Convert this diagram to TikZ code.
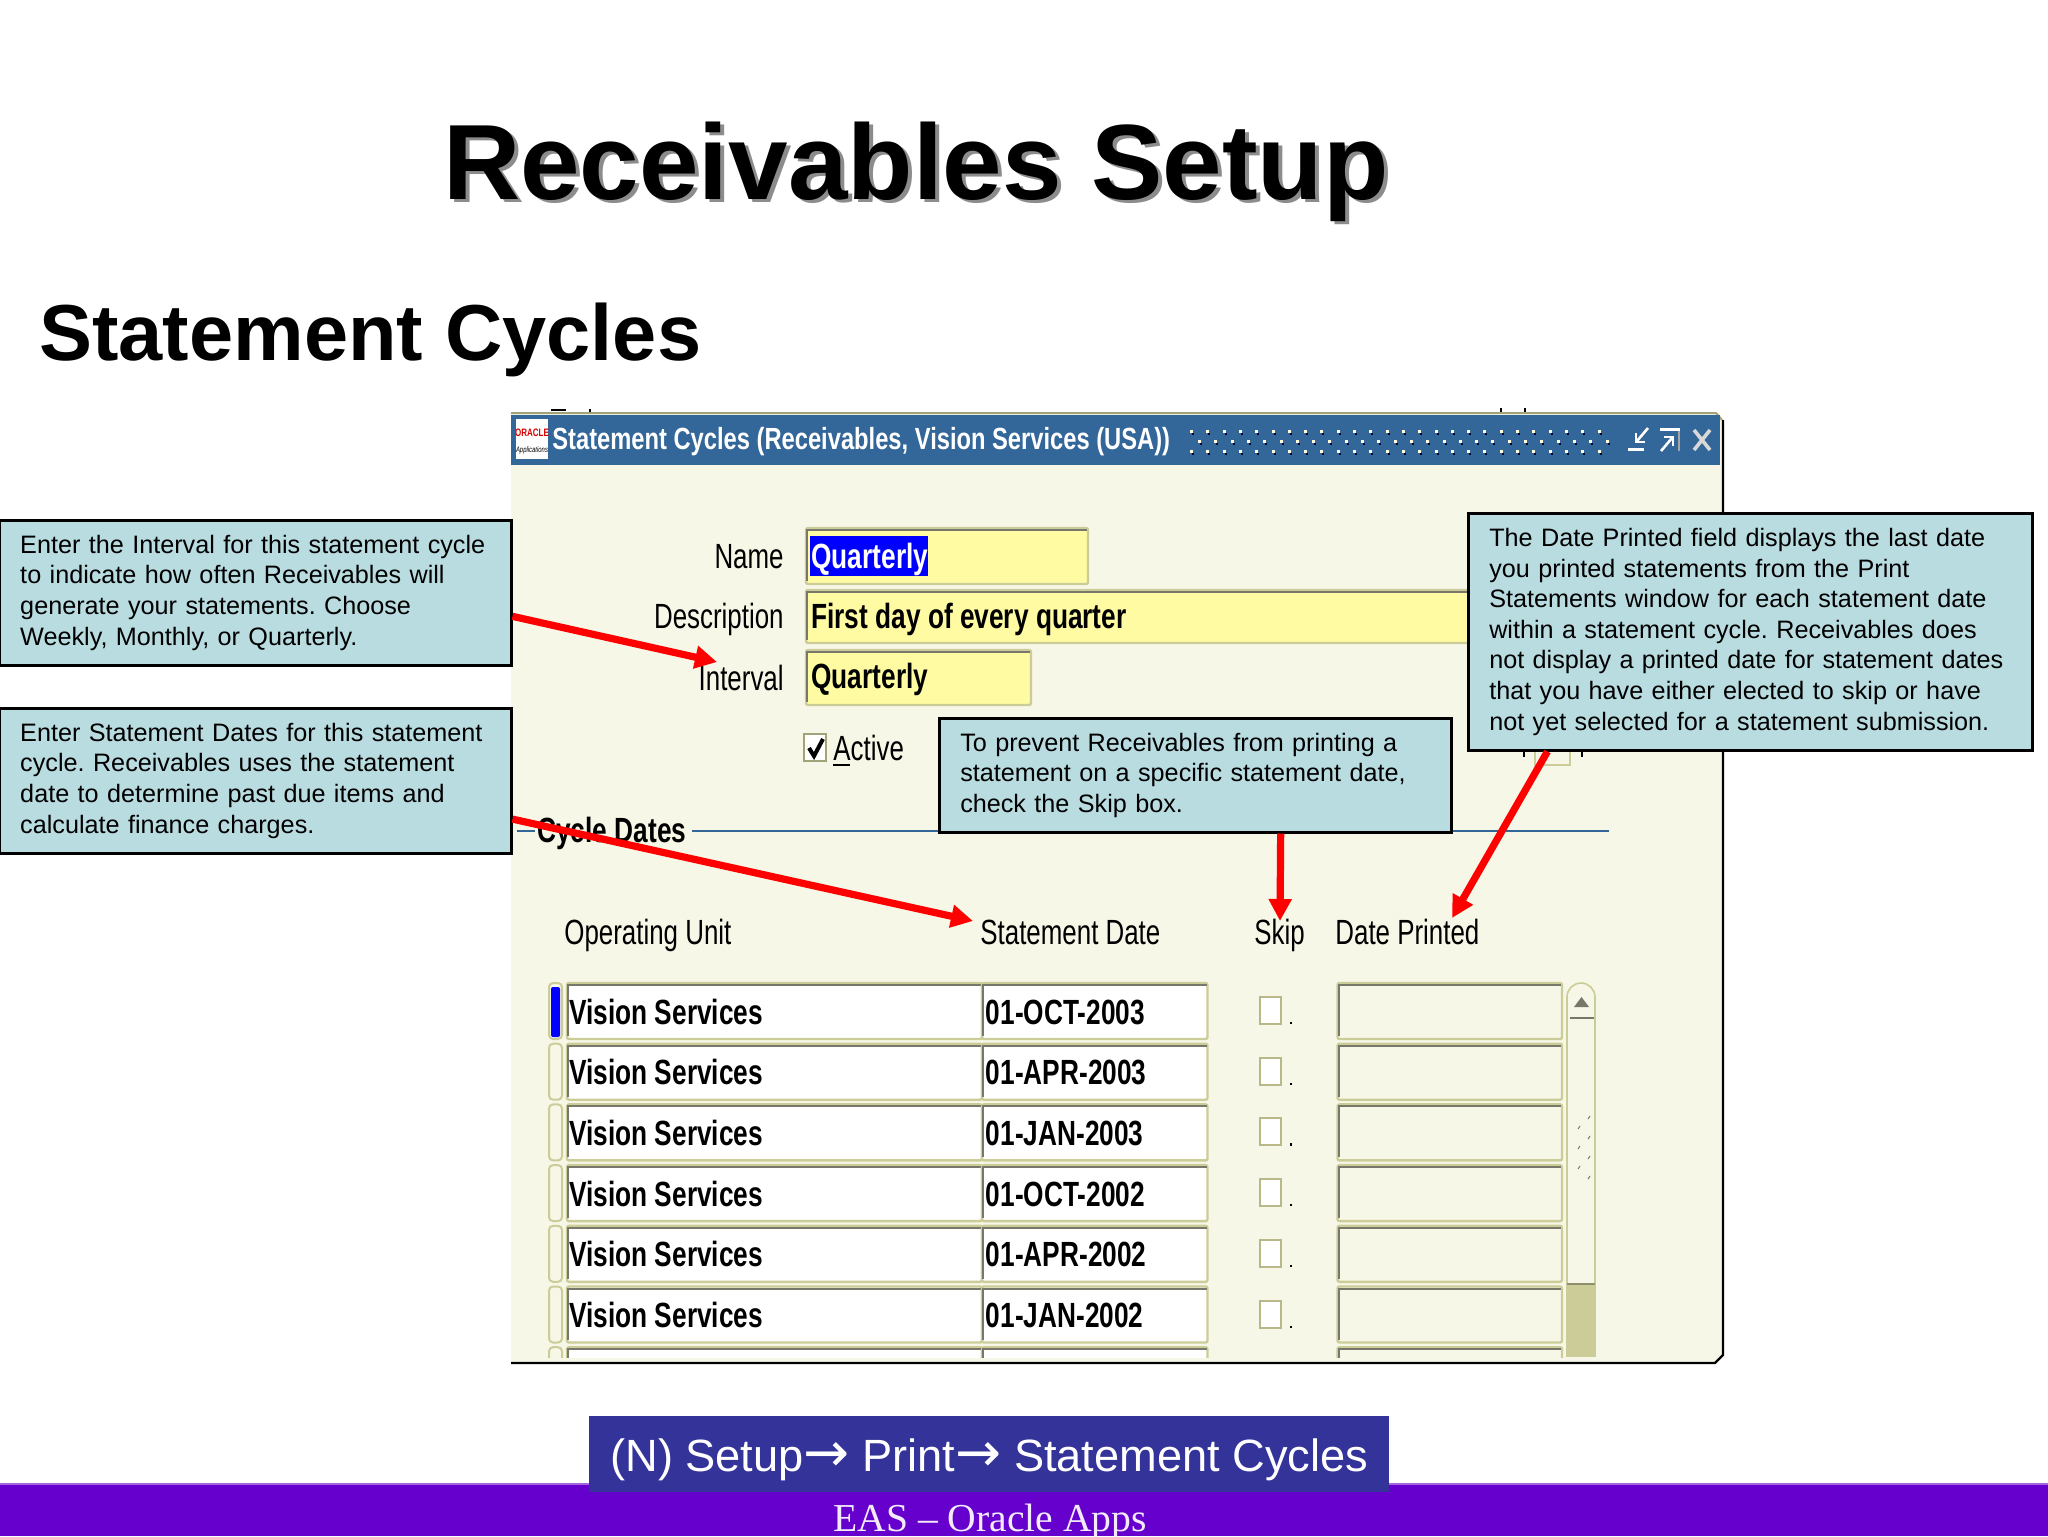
\documentclass[tikz,border=0pt]{standalone}
\usepackage{fontspec}
\setmainfont{Liberation Sans}
\newfontfamily\dejav{DejaVu Sans}
\newfontfamily\serifb{Liberation Serif}
\newfontfamily\narr[FakeStretch=0.74]{Liberation Sans}
\newfontfamily\narb[FakeStretch=0.75]{Liberation Sans}
\newfontfamily\nart[FakeStretch=0.775]{Liberation Sans}
\usetikzlibrary{calc,arrows.meta}
\definecolor{winbg}{HTML}{F7F7E7}
\definecolor{barblue}{HTML}{336699}
\definecolor{olive}{HTML}{CCCC99}
\definecolor{olivedk}{HTML}{77776A}
\definecolor{fieldy}{HTML}{FFFBA3}
\definecolor{callfill}{HTML}{B9DCE1}
\definecolor{navblue}{HTML}{333399}
\definecolor{footpurple}{HTML}{6600CC}
\tikzset{
  lbl/.style={inner sep=0pt,anchor=base east,font=\narr\fontsize{17.5}{20}\selectfont,text=black},
  hdr/.style={inner sep=0pt,anchor=base west,font=\narr\fontsize{17.5}{20}\selectfont,text=black},
  fld/.style={inner sep=0pt,anchor=base west,font=\narb\bfseries\fontsize{17.5}{20}\selectfont,text=black},
  callout/.style={draw=black,line width=1.25pt,fill=callfill,anchor=north west,inner xsep=10.5pt,inner ysep=0pt,
     align=left,font=\fontsize{12.6}{15.3}\selectfont\frenchspacing,text=black},
  redarrow/.style={draw=red,line width=3.6pt,-{Triangle[length=11pt,width=11pt]}},
}
\newcommand\fbx[5]{%
  \fill[#5] (#1,#2) rectangle (#3,#4);
  \draw[olive,line width=1.2pt,rounded corners=1pt] (#1,#2) rectangle (#3,#4);
  \draw[olivedk,line width=1pt] (#1+1,#4-3) -- (#1+1,#2+2) -- (#3-1,#2+2);
}
\begin{document}
\begin{tikzpicture}[x=0.5pt,y=-0.5pt]
\useasboundingbox (0,0) rectangle (2048,1536);
\fill[white] (0,0) rectangle (2048,1536);
% titles
\node[inner sep=0pt,anchor=base,text=black!45,font=\bfseries\fontsize{53.5}{60}\selectfont] (titleshadow) at (920,202) {Receivables Setup};
\node[inner sep=0pt,anchor=base,text=black,font=\bfseries\fontsize{53.5}{60}\selectfont] (title) at (916,199) {Receivables Setup};
\node[inner sep=0pt,anchor=base west,text=black,font=\bfseries\fontsize{39.7}{44}\selectfont] (subtitle) at (39,360) {Statement Cycles};
% stray marks above window
\draw[black,line width=1pt] (551,410) -- (566,410) (590,409) -- (590,413) (1501,408) -- (1501,414) (1525,408) -- (1525,414);
% window
\path[fill=winbg] (511,413) -- (1716,413) -- (1723,420) -- (1723,1355) -- (1715,1363) -- (511,1363) -- cycle;
\draw[black,line width=1.2pt] (1723,420) -- (1723,1355) -- (1715,1363) -- (511,1363);
\draw[olive!80!black,line width=1pt] (511,413) -- (1716,413) -- (1722,420);
\fill[barblue] (511,415) rectangle (1720,465);
\fill[white] (516,419) rectangle (548,459);
\node[inner sep=0pt,anchor=center,text=red!85!black,font=\narr\bfseries\fontsize{5.4}{6}\selectfont] (logotop) at (532,433) {ORACLE};
\node[inner sep=0pt,anchor=center,text=black,font=\narr\itshape\fontsize{4}{5}\selectfont] (logobot) at (532,450) {Applications};
\node[inner sep=0pt,anchor=base west,text=white,font=\nart\bfseries\fontsize{15.3}{18}\selectfont] (wintitle) at (552,449) {Statement Cycles (Receivables, Vision Services (USA))};
% title bar dots
\foreach \i in {0,...,25}{
  \foreach \xx/\yy in {1190/430,1198/440,1190/450}{
    \fill[white!85!yellow] ({\xx+16.3*\i},\yy) rectangle +(3,3);
    \fill[black!80!blue] ({\xx+16.3*\i+2},\yy+3) rectangle +(2,2);
  }
}
% window buttons
\fill[white] (1628,448) rectangle (1644,451);
\draw[white,line width=1.3pt] (1648,428) -- (1637,441);
\draw[white,line width=1pt] (1636,433) -- (1636,442) -- (1645,442);
\fill[white] (1660,428) rectangle (1680,431);
\fill[black!35!white] (1678,431) rectangle (1680,451);
\draw[white,line width=1.3pt] (1661,451) -- (1672,438);
\draw[white,line width=1pt] (1664,437) -- (1673,437) -- (1673,446);
\draw[white!85!black,line width=1.8pt] (1694,430) -- (1710,450) (1710,430) -- (1694,450);
% top form
\node[lbl] (lname) at (784,568) {Name};
\node[lbl] (ldesc) at (784,628) {Description};
\node[lbl] (lintv) at (784,690) {Interval};
\fbx{806}{528}{1088}{584}{fieldy}
\fbx{806}{590}{1480}{643}{fieldy}
\fbx{806}{650}{1031}{705}{fieldy}
\fill[blue] (810,536) rectangle (928,576);
\node[fld,text=white] (fname) at (811,568) {Quarterly};
\node[fld] (fdesc) at (811,628) {First day of every quarter};
\node[fld] (fintv) at (811,688) {Quarterly};
% active
\fill[white] (804,734) rectangle (826,761);
\draw[olive!80!black,line width=1pt] (804,734) rectangle (826,761);
\draw[black,line width=2pt] (809,748) -- (814,756) -- (823,739);
\node[hdr] (lactive) at (833,760) {Active};
\draw[black,line width=.6pt] (833,765) -- (850,765);
% bracketed box behind date callout
\draw[olive,line width=1pt] (1535,745) -- (1535,765) -- (1570,765) -- (1570,745);
\draw[black,line width=1pt] (1524,750) -- (1524,757) (1582,750) -- (1582,757);
% cycle dates
\draw[barblue,line width=1pt] (517,831) -- (535,831) (692,831) -- (1609,831);
\node[fld,inner sep=0pt] (lcycle) at (537,842) {Cycle Dates};
% column headers
\node[hdr] (hou) at (564,944) {Operating Unit};
\node[hdr] (hsd) at (980,944) {Statement Date};
\node[hdr] (hsk) at (1254,944) {Skip};
\node[hdr] (hdp) at (1335,944) {Date Printed};
% rows
\begin{scope}
\clip (540,975) rectangle (1600,1357);
\foreach \r in {0,...,6}{
  \pgfmathsetmacro\yt{983+60.7*\r}
  \pgfmathsetmacro\yb{\yt+56}
  \draw[olive,line width=1pt,rounded corners=2pt] (549,\yt) rectangle (562,\yb);
  \fbx{567}{\yt}{982}{\yb}{white}
  \fbx{982}{\yt}{1207.5}{\yb}{white}
  \fbx{1337.5}{\yt}{1562}{\yb}{winbg}
}
\end{scope}
\fill[blue,rounded corners=1pt] (551,987) rectangle (560,1037);
\foreach \r/\dt in {0/01-OCT-2003,1/01-APR-2003,2/01-JAN-2003,3/01-OCT-2002,4/01-APR-2002,5/01-JAN-2002}{
  \pgfmathsetmacro\yt{983+60.7*\r}
  \node[fld] (vs\r) at (569,\yt+41) {Vision Services};
  \node[fld] (dt\r) at (985.5,\yt+41) {\dt};
  \fill[white] (1260,\yt+14) rectangle (1281,\yt+41);
  \draw[olive!90!black,line width=1pt] (1260,\yt+14) rectangle (1281,\yt+41);
  \fill[black] (1289.5,\yt+39) rectangle +(2.2,2.2);
}
% scrollbar
\fill[olive] (1566,1284) rectangle (1596,1357);
\draw[olive,line width=.8pt] (1567,1284) -- (1567,997) arc[start angle=180,end angle=360,x radius=14,y radius=14] -- (1595,1284);
\draw[olivedk,line width=.8pt] (1570,1018) -- (1594,1018);
\fill[olivedk] (1574,1007) -- (1589,1007) -- (1581.5,997) -- cycle;
\draw[olive!70!black,line width=.8pt] (1567,1284) -- (1595,1284);
\foreach \px/\py in {1588/1119,1578/1129,1588/1139,1578/1149,1588/1159,1578/1169,1588/1179}{
  \draw[olivedk,line width=.5pt] (\px,\py) -- +(2,-3);
}
% callouts
\node[callout,text width=235pt,minimum height=72.5pt] (callI) at (-2,519)
 {\mbox{Enter the Interval for this statement cycle}\\to indicate how often Receivables will\\generate your statements. Choose\\Weekly, Monthly, or Quarterly.};
\node[callout,text width=235pt,minimum height=72.5pt] (callC) at (-2,707)
 {\mbox{Enter Statement Dates for this statement}\\cycle. Receivables uses the statement\\date to determine past due items and\\calculate finance charges.};
\node[callout,text width=235pt,minimum height=57pt] (callS) at (938,717)
 {To prevent Receivables from printing a\\statement on a specific statement date,\\check the Skip box.};
\node[callout,text width=261pt,minimum height=118.5pt] (callD) at (1467,512)
 {The Date Printed field displays the last date\\you printed statements from the Print\\Statements window for each statement date\\within a statement cycle. Receivables does\\not display a printed date for statement dates\\that you have either elected to skip or have\\not yet selected for a statement submission.};
% arrows
\coordinate (tipI) at (717,662);
\coordinate (tipC) at (973,921);
\coordinate (tipS) at (1280,921);
\coordinate (tipD) at (1452,918);
\draw[redarrow] ($(callI.south east)!0.34!(callI.north east)$) -- (tipI);
\draw[redarrow] ($(callC.south east)!0.24!(callC.north east)$) -- (tipC);
\draw[redarrow] ($(callS.south west)!0.666!(callS.south east)$) -- (tipS);
\draw[redarrow] ($(callD.south west)!0.142!(callD.south east)$) -- (tipD);
% footer
\fill[footpurple] (0,1484) rectangle (2048,1536);
\draw[footpurple!60!white,line width=.6pt] (0,1484) -- (2048,1484);
\node[inner sep=0pt,anchor=north west,minimum width=400pt,minimum height=38pt,fill=navblue] (nav) at (589,1416) {};
\node[inner sep=0pt,anchor=base west,text=white,font=\fontsize{22.6}{26}\selectfont] (navtext) at (610,1471) {(N) Setup{\dejav\fontsize{27.5}{26}\selectfont →} Print{\dejav\fontsize{27.5}{26}\selectfont →} Statement Cycles};
\node[inner sep=0pt,anchor=base,text=white!92!footpurple,font=\serifb\fontsize{19.8}{22}\selectfont] (foot) at (990,1531) {EAS – Oracle Apps};
\end{tikzpicture}
\end{document}
